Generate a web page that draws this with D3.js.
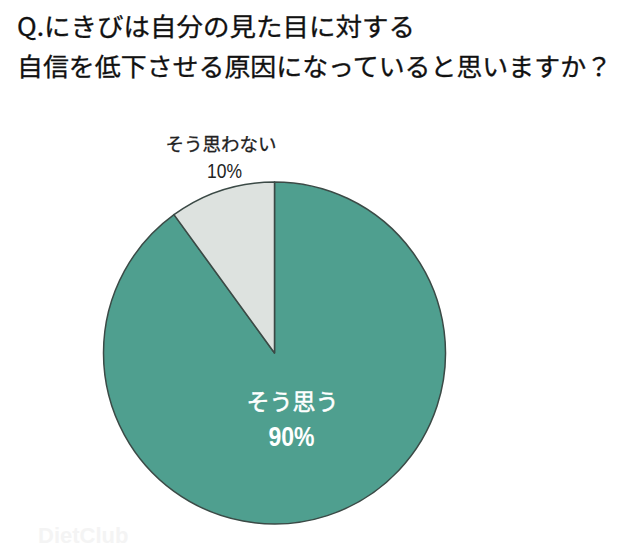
<!DOCTYPE html>
<html><head><meta charset="utf-8">
<script src="https://cdn.jsdelivr.net/npm/d3@7"></script>
<style>body{margin:0;background:#fff;} svg{display:block;}</style>
</head><body>
<div id="chart"></div>
<script>
const titleLines = ["Q.にきびは自分の見た目に対する", "自信を低下させる原因になっていると思いますか？"];
const categories = ["そう思う", "そう思わない"];
const values = [90, 10];
const valueLabels = ["90%", "10%"];
const colors = ["#4f9f8f", "#dde2df"];

const W = 640, H = 554;
const svg = d3.select("#chart").append("svg").attr("width", W).attr("height", H);
const jp = "'Noto Sans CJK JP','Noto Sans',sans-serif";

svg.append("text").attr("x", 17).attr("y", 36).attr("font-family", jp).attr("font-size", 25)
  .attr("fill", "#111").attr("stroke", "#111").attr("stroke-width", 0.3)
  .attr("textLength", 398).attr("lengthAdjust", "spacingAndGlyphs").text(titleLines[0]);
svg.append("text").attr("x", 17).attr("y", 76).attr("font-family", jp).attr("font-size", 25)
  .attr("fill", "#111").attr("stroke", "#111").attr("stroke-width", 0.3)
  .attr("textLength", 595).attr("lengthAdjust", "spacingAndGlyphs").text(titleLines[1]);

const cx = 274.5, cy = 353, r = 171;
const data = categories.map((c, i) => ({cat: c, value: values[i], label: valueLabels[i], color: colors[i]}));
const pie = d3.pie().value(d => d.value).sort(null);
const arcs = pie(data);
const arc = d3.arc().innerRadius(0).outerRadius(r);
const g = svg.append("g").attr("transform", `translate(${cx},${cy})`);
g.selectAll("path").data(arcs).join("path")
  .attr("d", arc).attr("fill", d => d.data.color)
  .attr("stroke", "#3b4a46").attr("stroke-width", 1.5).attr("stroke-linejoin", "round");

svg.append("text").attr("x", 292.5).attr("y", 410).attr("text-anchor", "middle")
  .attr("font-family", jp).attr("font-size", 23).attr("fill", "#fff")
  .attr("stroke", "#fff").attr("stroke-width", 0.5).text(data[0].cat);
svg.append("text").attr("x", 291.5).attr("y", 446).attr("text-anchor", "middle")
  .attr("font-family", "'Liberation Sans',Arial,sans-serif").attr("font-size", 27).attr("font-weight", "bold")
  .attr("fill", "#fff").attr("textLength", 46).attr("lengthAdjust", "spacingAndGlyphs").text(data[0].label);

svg.append("text").attr("x", 221).attr("y", 151).attr("text-anchor", "middle")
  .attr("font-family", jp).attr("font-size", 18.5).attr("fill", "#222")
  .attr("stroke", "#222").attr("stroke-width", 0.3).text(data[1].cat);
svg.append("text").attr("x", 224.5).attr("y", 178).attr("text-anchor", "middle")
  .attr("font-family", "'Liberation Sans',Arial,sans-serif").attr("font-size", 20)
  .attr("fill", "#222").attr("textLength", 35).attr("lengthAdjust", "spacingAndGlyphs").text(data[1].label);

svg.append("text").attr("x", 38).attr("y", 543).attr("font-family", "'Liberation Sans',Arial,sans-serif")
  .attr("font-size", 22).attr("font-weight", "bold").attr("fill", "#f4f4f4").text("DietClub");
</script>
</body></html>
